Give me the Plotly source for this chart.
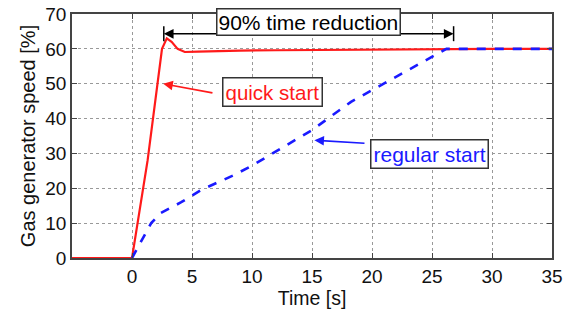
import plotly.graph_objects as go

quick_t = [-5, 0, 1.3, 2.5, 2.9, 3.3, 3.8, 4.4, 5.5, 7, 9, 12, 15, 18, 21, 24, 27, 30, 33, 35]
quick_v = [0, 0, 28, 60, 63, 62, 60, 59.1, 59.2, 59.4, 59.5, 59.6, 59.7, 59.8, 59.8, 59.9, 60, 60, 60, 60]

regular_t = [0, 0.75, 1.6, 2.4, 4.1, 5.75, 8.5, 10, 15, 18.25, 24.7, 26.2, 30, 35]
regular_v = [0, 4.6, 10, 12.9, 16, 19.5, 23.8, 26.5, 36.7, 44.8, 57, 60, 60, 60]

x_ticks = [0, 5, 10, 15, 20, 25, 30, 35]
y_ticks = [0, 10, 20, 30, 40, 50, 60, 70]

FONT = "Liberation Sans, Arial, sans-serif"

fig = go.Figure()
fig.add_trace(go.Scatter(x=quick_t, y=quick_v, mode="lines",
                         line=dict(color="#ff1a1a", width=2.2), showlegend=False))
fig.add_trace(go.Scatter(x=regular_t, y=regular_v, mode="lines",
                         line=dict(color="#1a1aff", width=2.6, dash="dash"), showlegend=False))

# double arrow for "90% time reduction"
t0, t1, ya = 2.65, 26.8, 64.3
mid = (t0 + t1) / 2
for tip in (t0, t1):
    fig.add_annotation(x=tip, y=ya, ax=mid, ay=ya, axref="x", ayref="y", xref="x", yref="y",
                       text="", showarrow=True, arrowhead=2, arrowsize=1.3, arrowwidth=1.5,
                       arrowcolor="black")
for tip in (t0, t1):
    fig.add_shape(type="line", x0=tip, x1=tip, y0=62.2, y1=66.5, xref="x", yref="y",
                  line=dict(color="black", width=1.5))

fig.add_annotation(x=14.7, y=67.6, xref="x", yref="y", text="90% time reduction",
                   showarrow=False, font=dict(family=FONT, size=21, color="black"),
                   bgcolor="white", bordercolor="#333", borderwidth=1.5, borderpad=1)

fig.add_annotation(x=2.6, y=50, ax=6.83, ay=47.3, axref="x", ayref="y",
                   xref="x", yref="y", text="", showarrow=True, arrowhead=2,
                   arrowsize=1.2, arrowwidth=1.6, arrowcolor="#ff1a1a")
fig.add_annotation(x=11.7, y=47.6, xref="x", yref="y", text="quick start",
                   showarrow=False, font=dict(family=FONT, size=20.5, color="#ff1a1a"),
                   bgcolor="white", bordercolor="#333", borderwidth=1.5, borderpad=2)

fig.add_annotation(x=15.2, y=33.8, ax=19.5, ay=32.9, axref="x", ayref="y",
                   xref="x", yref="y", text="", showarrow=True, arrowhead=2,
                   arrowsize=1.2, arrowwidth=1.6, arrowcolor="#1a1aff")
fig.add_annotation(x=24.75, y=29.8, xref="x", yref="y", text="regular start",
                   showarrow=False, font=dict(family=FONT, size=21, color="#1a1aff"),
                   bgcolor="white", bordercolor="#333", borderwidth=1.5, borderpad=2)

axis_common = dict(showline=True, linecolor="#444", linewidth=1.5, mirror="ticks",
                   ticks="inside", ticklen=5, tickcolor="#444",
                   showgrid=True, gridcolor="#999", griddash="dot", gridwidth=1,
                   zeroline=False, automargin=False, ticklabeloverflow="allow",
                   tickfont=dict(family=FONT, size=19, color="#111"))

fig.update_xaxes(range=[-5, 35], tickvals=x_ticks, ticktext=[str(v) for v in x_ticks],
                 title=dict(text="Time [s]", font=dict(family=FONT, size=19.5, color="#111"),
                            standoff=6), **axis_common)
fig.update_yaxes(range=[0, 70], tickvals=y_ticks, ticktext=[str(v) for v in y_ticks],
                 title=dict(text="Gas generator speed [%]",
                            font=dict(family=FONT, size=20, color="#111"), standoff=4),
                 **axis_common)

fig.update_layout(width=563, height=320, margin=dict(l=72, r=11, t=14, b=62),
                  plot_bgcolor="white", paper_bgcolor="white", showlegend=False)

fig.write_html("out.html", config={"displayModeBar": False},
               post_script="document.body.style.margin='0';document.body.style.overflow='hidden';")
